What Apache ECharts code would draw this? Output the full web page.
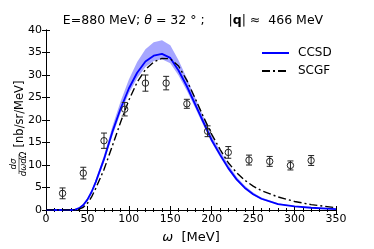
<!DOCTYPE html>
<html><head><meta charset="utf-8">
<script src="https://cdn.jsdelivr.net/npm/echarts@6/dist/echarts.min.js"></script>
<style>html,body{margin:0;padding:0;background:#fff}#c{width:374px;height:249px}</style>
</head><body><div id="c"></div>
<script>
const omega = [0,10,20,30,35,40,45,50,55,60,70,80,90,100,110,120,130,140,150,160,170,180,190,200,210,220,230,240,250,260,280,300,320,350];
const ccsd  = [0,0,0,0,0.1,0.4,1.1,2.3,4.0,6.2,11.3,17.3,22.5,27,30.5,33,34.3,34.7,33.8,31,27.5,23.5,19.5,15.5,12.3,9.3,6.8,4.9,3.5,2.5,1.3,0.8,0.5,0.2];
const ccsdUpper = [0,0,0,0,0.1,0.5,1.3,2.6,4.4,6.7,12.1,18.5,24.1,29,32.9,35.7,37.3,37.7,36.6,33.3,29.3,25,20.7,16.5,13.2,10.1,7.4,5.4,3.9,2.8,1.5,0.9,0.6,0.25];
const ccsdLower = [0,0,0,0,0.1,0.3,0.9,2.0,3.6,5.7,10.6,16.4,21.5,25.9,29.3,31.8,33.1,33.5,32.6,29.9,26.5,22.7,18.8,15,11.8,8.9,6.5,4.7,3.3,2.3,1.2,0.7,0.45,0.15];
const scgf  = [0,0,0,0,0,0.2,0.6,1.5,2.9,4.8,9.0,14.2,19.5,24.4,28.4,31.2,32.9,33.7,33.6,32,28.8,24.8,20.7,16.8,13.5,10.5,8.3,6.6,5.3,4.3,2.9,1.9,1.2,0.5];
const expOmega = [20,45,70,95,120,145,170,195,220,245,270,295,320];
const expVal   = [3.7,8.2,15.4,22.4,28.2,28.2,23.6,17.5,12.8,11.1,10.8,9.9,11.0];
const expErr   = [1.2,1.3,1.7,1.5,1.8,1.5,1.0,1.2,1.3,1.1,1.1,1.0,1.1];
const xTicks = [0,50,100,150,200,250,300,350];
const yTicks = [0,5,10,15,20,25,30,35,40];

const F = 'DejaVu Sans';
const chart = echarts.init(document.getElementById('c'), null, {renderer:'canvas'});
const pair = a => omega.map((w,i)=>[w,a[i]]);
const axisCommon = {
  axisLine:{show:true,lineStyle:{color:'#000',width:1}},
  axisTick:{show:true,inside:true,length:4,lineStyle:{color:'#000'}},
  minorTick:{show:false},
  splitLine:{show:false}
};
const xMinor = {minorTick:{show:true,splitNumber:5,length:2,lineStyle:{color:'#000'}}};
chart.setOption({
  animation:false,
  textStyle:{fontFamily:F},
  title:{
    text:'{a|E=880 MeV; }{i|θ}{a| = 32 ° ;      |}{b|q}{a|| ≈  466 MeV}',
    left:188, textAlign:'center', top:9,
    textStyle:{fontWeight:'normal',rich:{
      a:{fontFamily:F,fontSize:12.5,fontWeight:'normal',color:'#000'},
      i:{fontFamily:F,fontSize:12.5,fontStyle:'italic',fontWeight:'normal',color:'#000'},
      b:{fontFamily:F,fontSize:12.5,fontWeight:'bold',color:'#000'}
    }}
  },
  legend:{
    left:256, top:42, orient:'vertical', itemGap:6, itemWidth:27, itemHeight:12,
    itemStyle:{color:'transparent',borderColor:'transparent',borderWidth:0},
    textStyle:{fontFamily:F,fontSize:12,color:'#000',padding:[0,0,0,4]},
    data:['CCSD','SCGF']
  },
  grid:{left:46,right:38,top:30,bottom:32},
  xAxis:[
    Object.assign({type:'value',min:0,max:350,interval:50,
      axisLabel:{fontFamily:F,fontSize:11,color:'#000',margin:4,
        formatter:v=>xTicks.includes(v)?String(v):''},
      name:'{i|ω}{a|  [MeV]}', nameLocation:'middle', nameGap:21,
      nameTextStyle:{rich:{i:{fontFamily:F,fontSize:13,fontStyle:'italic',color:'#000'},a:{fontFamily:F,fontSize:13,color:'#000'}}}
    },axisCommon,xMinor),
    Object.assign({type:'value',min:0,max:350,interval:50,position:'top',
      axisLabel:{show:false}},axisCommon,xMinor)
  ],
  yAxis:[
    Object.assign({type:'value',min:0,max:40,interval:5,
      axisLabel:{fontFamily:F,fontSize:11,color:'#000',margin:4,
        formatter:v=>yTicks.includes(v)?String(v):''}},axisCommon),
    Object.assign({type:'value',min:0,max:40,interval:5,position:'right',
      axisLabel:{show:false}},axisCommon)
  ],
  graphic:[
    {type:'group', x:19, y:124, rotation:Math.PI/2, children:[
      {type:'text', x:10, y:1, style:{text:'[nb/sr/MeV]', font:'11.5px "DejaVu Sans"', fill:'#000', textAlign:'center', textVerticalAlign:'middle'}},
      {type:'text', x:-40, y:-5, style:{text:'dσ', font:'italic 8.5px "DejaVu Sans"', fill:'#000', textAlign:'center', textVerticalAlign:'middle'}},
      {type:'line', shape:{x1:-50,y1:0,x2:-30,y2:0}, style:{stroke:'#000',lineWidth:0.6}},
      {type:'text', x:-40, y:5, style:{text:'dωdΩ', font:'italic 8.5px "DejaVu Sans"', fill:'#000', textAlign:'center', textVerticalAlign:'middle'}}
    ]}
  ],
  series:[
    {
      type:'custom', name:'band', silent:true, z:1,
      data:[[0,0]],
      renderItem:(params,api)=>{
        const pts=[];
        omega.forEach((w,i)=>pts.push(api.coord([w,ccsdUpper[i]])));
        for(let i=omega.length-1;i>=0;i--) pts.push(api.coord([omega[i],ccsdLower[i]]));
        return {type:'polygon',shape:{points:pts},style:{fill:'rgba(0,0,255,0.35)',stroke:'none'}};
      }
    },
    {type:'line', name:'CCSD', data:pair(ccsd), showSymbol:false, symbol:'none', z:3,
      lineStyle:{color:'#0000ff',width:1.8}, itemStyle:{color:'#0000ff'}},
    {type:'line', name:'SCGF', data:pair(scgf), showSymbol:false, symbol:'none', z:4,
      lineStyle:{color:'#000',width:1.4,type:[8,3,2,3]}, itemStyle:{color:'#000'}},
    {
      type:'custom', name:'exp', z:5,
      data:expOmega.map((w,i)=>[w,expVal[i],expErr[i]]),
      renderItem:(params,api)=>{
        const w=api.value(0), v=api.value(1), e=api.value(2);
        const c=api.coord([w,v]), hi=api.coord([w,v+e]), lo=api.coord([w,v-e]);
        const st={stroke:'#222',lineWidth:1,fill:'none'};
        return {type:'group',children:[
          {type:'line',shape:{x1:c[0],y1:hi[1],x2:c[0],y2:lo[1]},style:st},
          {type:'line',shape:{x1:c[0]-3,y1:hi[1],x2:c[0]+3,y2:hi[1]},style:st},
          {type:'line',shape:{x1:c[0]-3,y1:lo[1],x2:c[0]+3,y2:lo[1]},style:st},
          {type:'circle',shape:{cx:c[0],cy:c[1],r:3.2},style:{stroke:'#222',lineWidth:1,fill:'none'}}
        ]};
      }
    }
  ]
});
</script></body></html>
